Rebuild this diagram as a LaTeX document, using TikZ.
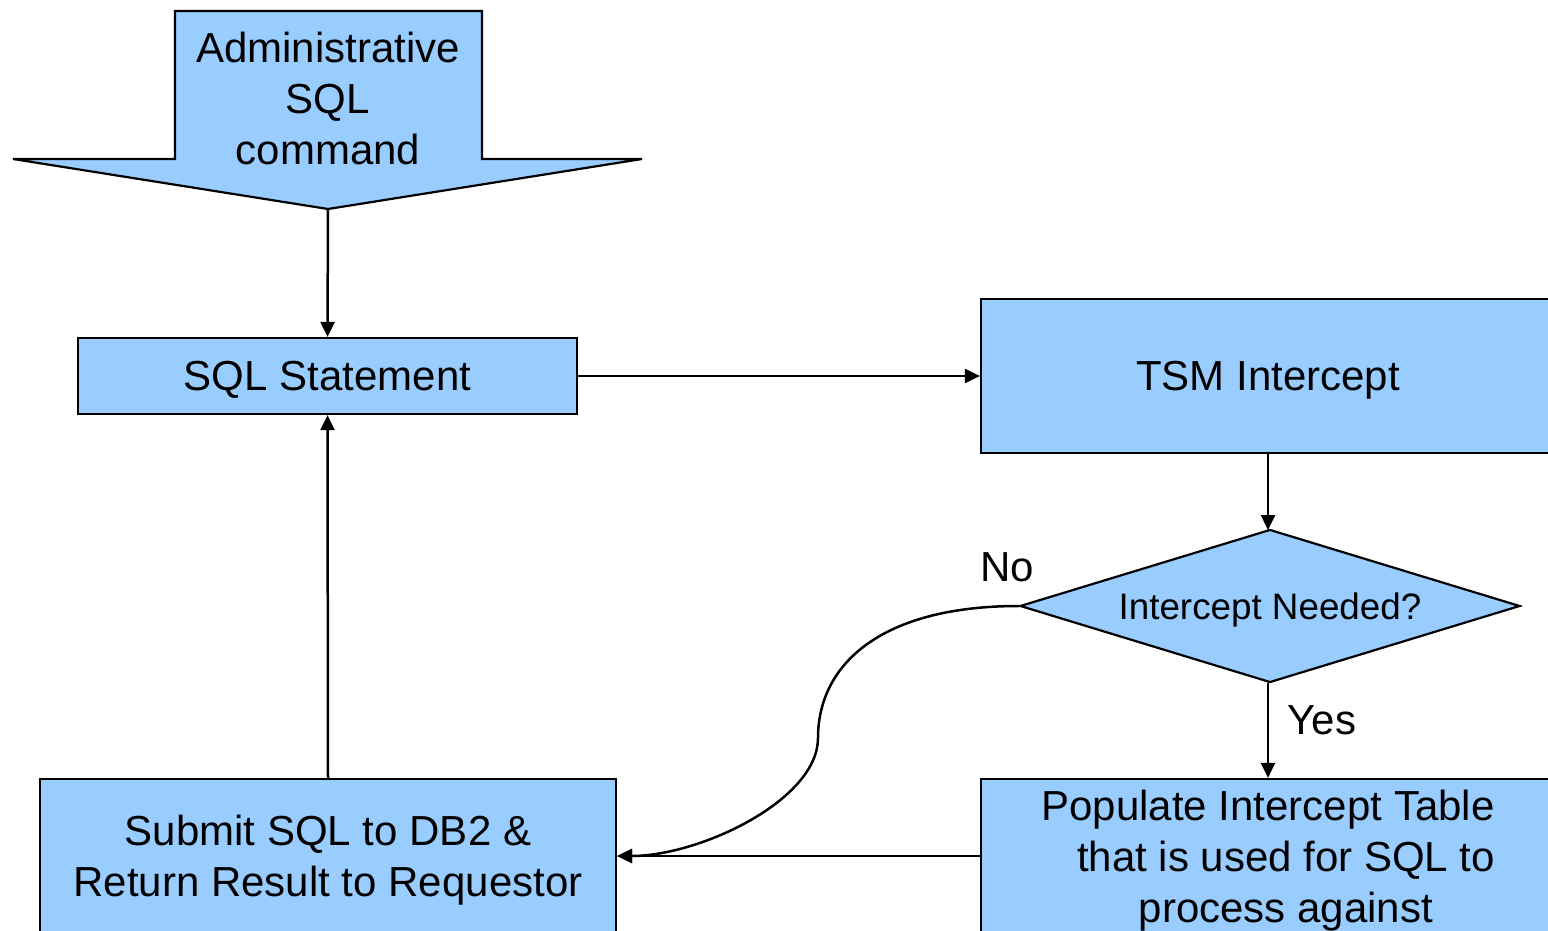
\documentclass[tikz,border=0pt]{standalone}
\usepackage{fontspec}
\setmainfont{Liberation Sans}
\usetikzlibrary{shapes.geometric,arrows.meta}
\definecolor{boxblue}{HTML}{99CCFF}
\begin{document}
\begin{tikzpicture}[x=0.5pt,y=-0.5pt,
  every node/.style={font=\fontsize{21}{25.5}\selectfont, inner sep=0pt},
  flowbox/.style={draw=black, line width=1.1pt, fill=boxblue, align=center, text depth=0pt},
  decision/.style={draw=black, line width=1.1pt, fill=boxblue, diamond,
    minimum width=250pt, minimum height=76.5pt, aspect=3.27, text depth=0pt,
    font=\fontsize{18.4}{22}\selectfont},
  link/.style={line width=1.25pt, -{Triangle[length=7.5pt,width=7pt]}},
  lbl/.style={font=\fontsize{21}{25.5}\selectfont}]
\clip (0,0) rectangle (1548,931);

% entry arrow carrying the administrative command
\filldraw[fill=boxblue, draw=black, line width=1.1pt]
  (175,11) -- (482,11) -- (482,159) -- (642,159) -- (328,209)
  -- (13,159) -- (175,159) -- cycle;
\node[align=center, text depth=0pt] (adm) at (328,98) {Administrative\\SQL\\command};
\coordinate (admtip) at (328,209);

% process boxes
\node[flowbox, minimum width=249.5pt, minimum height=38pt] (sql) at (327.5,376) {SQL Statement};
\node[flowbox, minimum width=287pt, minimum height=77pt] (tsm) at (1268,376) {TSM Intercept};
\node[decision] (dec) at (1270,606) {Intercept Needed?};
\node[flowbox, minimum width=288pt, minimum height=77pt] (sub) at (328,856)
  {Submit SQL to DB2 \&\\Return Result to Requestor};
\node[flowbox, minimum width=287pt, minimum height=77pt] (pop) at (1268,856)
  {Populate Intercept Table\\\hspace*{18pt}that is used for SQL to\\\hspace*{18pt}process against};

% branch labels
\node[lbl] (no) at (1007,567) {No};
\node[lbl] (yes) at (1322,720) {Yes};

% connectors
\coordinate (bend) at (818,738);
\draw[link] (admtip) -- (sql.north);
\draw[link] (sql.east) -- (tsm.west);
\draw[link] (tsm.south) -- (1268,530);
\draw[link] (1268,683) -- (pop.north);
\draw[link] (pop.west) -- (sub.east);
\draw[link] (dec.west) .. controls (880,606) and (818,665) .. (bend)
  .. controls (818,800) and (700,856) .. (sub.east);
\draw[link] (sub.north) -- (sql.south);
\end{tikzpicture}
\end{document}
